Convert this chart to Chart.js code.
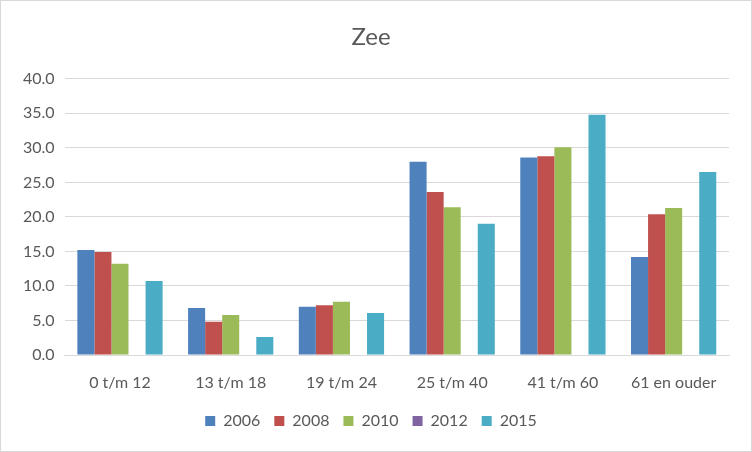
<!DOCTYPE html>
<html>
<head>
<meta charset="utf-8">
<script src="https://cdn.jsdelivr.net/npm/chart.js"></script>
<style>
body{margin:0;background:#fff;}
#box{width:750px;height:450px;border:1px solid #D9D9D9;}
</style>
</head>
<body>
<div id="box"><canvas id="c" width="750" height="450"></canvas></div>
<script>
let categories=["0 t/m 12","13 t/m 18","19 t/m 24","25 t/m 40","41 t/m 60","61 en ouder"];
let years=["2006","2008","2010","2012","2015"];
let v2006=[15.2,6.8,7.0,28.0,28.6,14.2];
let v2008=[14.9,4.8,7.2,23.6,28.8,20.4];
let v2010=[13.2,5.8,7.7,21.4,30.1,21.3];
let v2012=[null,null,null,null,null,null];
let v2015=[10.7,2.6,6.1,19.0,34.8,26.5];
let colors=["#4F81BD","#C0504D","#9BBB59","#8064A2","#4BACC6"];
let series=[v2006,v2008,v2010,v2012,v2015];

let font="Lato, 'Liberation Sans', sans-serif";
let ctx=document.getElementById('c').getContext('2d');
let chart=new Chart(ctx,{
    type:'bar',
    data:{
        labels:categories,
        datasets:series.map((d,i)=>({label:years[i],data:d,backgroundColor:colors[i],borderWidth:0,categoryPercentage:0.77,barPercentage:1.0}))
    },
    options:{
        responsive:false,
        animation:false,
        layout:{padding:{left:12,right:22,top:0,bottom:12}},
        plugins:{
            title:{display:true,text:"Zee",color:"#595959",font:{family:font,size:24,weight:'normal'},padding:{top:22,bottom:27}},
            legend:{position:'bottom',labels:{boxWidth:10,boxHeight:10,color:"#595959",font:{family:font,size:16},padding:14}},
            tooltip:{enabled:false}
        },
        scales:{
            x:{grid:{display:false,drawTicks:false},border:{color:"#D9D9D9"},
               ticks:{color:"#595959",font:{family:font,size:16},padding:18},
               afterFit:s=>{s.height=44;}},
            y:{min:0,max:40,ticks:{stepSize:5,color:"#595959",font:{family:font,size:16},padding:10,callback:v=>v.toFixed(1)},grid:{color:"#D9D9D9",drawTicks:false},border:{display:false}}
        }
    }
});
</script>
</body>
</html>
